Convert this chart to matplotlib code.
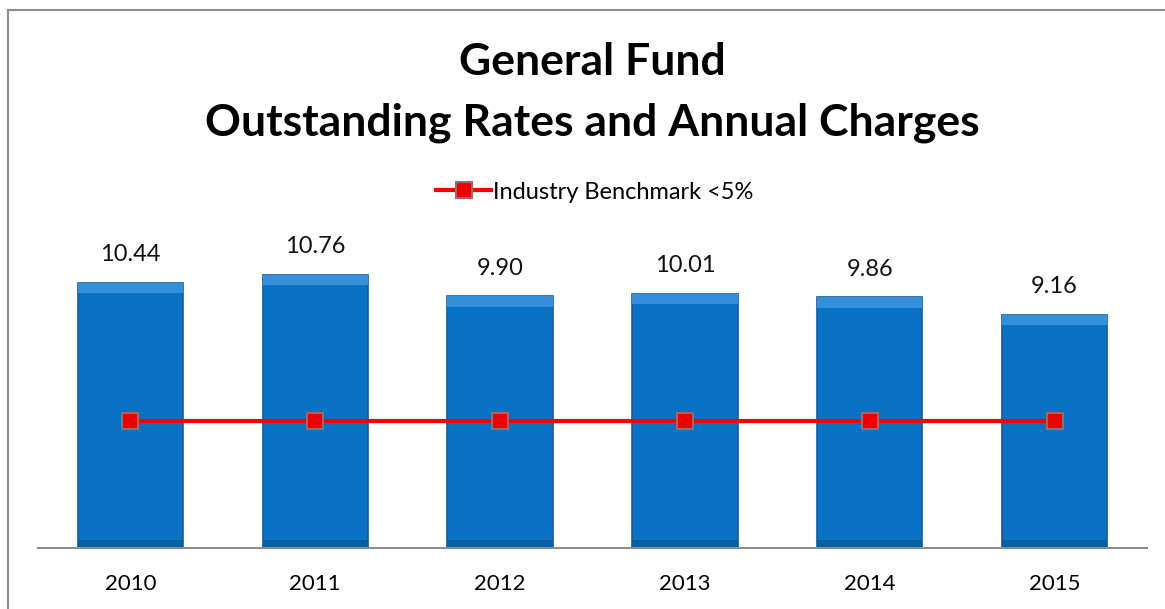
import numpy as np
import matplotlib.pyplot as plt
from matplotlib.patches import Rectangle
from matplotlib.lines import Line2D

years = ['2010', '2011', '2012', '2013', '2014', '2015']
outstanding = [10.44, 10.76, 9.90, 10.01, 9.86, 9.16]
benchmark = [5, 5, 5, 5, 5, 5]

W, H = 1165, 609
fig = plt.figure(figsize=(W / 100, H / 100), dpi=100)
plt.rcParams['font.family'] = ['Lato', 'DejaVu Sans']

# outer chart border (only top and left visible)
fig.patches.append(Rectangle((8 / W, -0.1), 1.2, (H - 10) / H + 0.1,
                             transform=fig.transFigure, fill=False,
                             edgecolor='#8c8c8c', linewidth=1.5))

ax = fig.add_axes([38 / W, (H - 548) / H, (1147 - 38) / W, 305 / H])
x = np.arange(len(years))
bw = 0.57

# bars with a simple bevel look
ax.bar(x, outstanding, width=bw, color='#0a72c4', edgecolor='#1a5a98',
       linewidth=1.2, zorder=2)
ax.bar(x, [0.4] * len(x), bottom=np.array(outstanding) - 0.4, width=bw,
       color='#3590dc', edgecolor='none', zorder=2.5)
ax.bar(x, [0.3] * len(x), bottom=0, width=bw, color='#06609f',
       edgecolor='none', zorder=2.5)

for xi, v in zip(x, outstanding):
    ax.text(xi, v + 0.7, '{:.2f}'.format(v), ha='center', va='bottom',
            fontsize=17, color='#111111')

ax.plot(x, benchmark, color='#ff0000', linewidth=3, marker='s',
        markersize=11, markerfacecolor='#ee0000', markeredgecolor='#9a6a6a',
        markeredgewidth=1.5, zorder=3)

ax.set_xlim(-0.5, len(x) - 0.5)
ax.set_ylim(0, 12)
ax.set_yticks([])
ax.set_xticks(x)
ax.set_xticklabels(years, fontsize=16)
ax.tick_params(axis='x', length=0, pad=19)
for s in ['top', 'right', 'left']:
    ax.spines[s].set_visible(False)
ax.spines['bottom'].set_color('#8c8c8c')
ax.spines['bottom'].set_linewidth(1.5)

fig.text(592 / W, 1 - 75 / H, 'General Fund', ha='center', va='baseline',
         fontsize=32, fontweight='bold')
fig.text(592 / W, 1 - 136 / H, 'Outstanding Rates and Annual Charges',
         ha='center', va='baseline', fontsize=32, fontweight='bold')

handle = Line2D([], [], color='#ff0000', linewidth=3, marker='s',
                markersize=11, markerfacecolor='#ee0000',
                markeredgecolor='#9a6a6a', markeredgewidth=1.5)
fig.legend([handle], ['Industry Benchmark <5%'], loc='center',
           bbox_to_anchor=(595 / W, 1 - 192 / H), frameon=False,
           fontsize=17, handlelength=2.3, handletextpad=0.1)

fig.savefig('out.png', dpi=100)
